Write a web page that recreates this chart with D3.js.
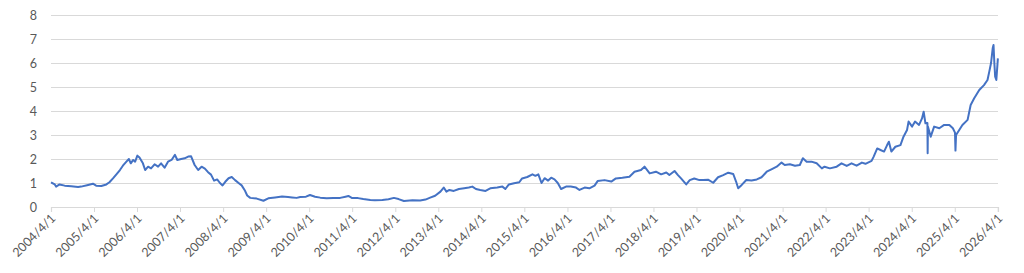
<!DOCTYPE html>
<html>
<head>
<meta charset="utf-8">
<script src="https://cdn.jsdelivr.net/npm/d3@7"></script>
<style>
  html, body { margin: 0; padding: 0; background: #fff; }
  svg { display: block; }
  .tick text { font-family: Lato, "Open Sans", sans-serif; font-size: 12.5px; fill: #595959; }
</style>
</head>
<body>
<div id="chart"></div>
<script>
const width = 1024;
const height = 273;
const plot = { left: 51, right: 998, top: 15, bottom: 207 };

// observation dates, one line per year
const dates = [
  '2004-04-01', '2004-05-03', '2004-05-14', '2004-06-13', '2004-07-26', '2004-09-20', '2004-11-17', '2004-12-13',
  '2005-02-10', '2005-03-23', '2005-04-19', '2005-06-02', '2005-07-15', '2005-08-10', '2005-09-09', '2005-10-08', '2005-11-07', '2005-12-02',
  '2006-01-01', '2006-01-22', '2006-02-07', '2006-02-28', '2006-03-16', '2006-04-04', '2006-04-22', '2006-05-21', '2006-06-09', '2006-07-04', '2006-07-29', '2006-08-28', '2006-09-27', '2006-10-22', '2006-11-21', '2006-12-20',
  '2007-01-19', '2007-02-17', '2007-03-09', '2007-04-11', '2007-05-10', '2007-06-09', '2007-07-04', '2007-08-03', '2007-09-02', '2007-10-01', '2007-10-29', '2007-11-25', '2007-12-20',
  '2008-01-15', '2008-02-10', '2008-03-05', '2008-03-27', '2008-04-19', '2008-05-17', '2008-06-13', '2008-07-11', '2008-08-10', '2008-09-05', '2008-10-01', '2008-10-22', '2008-11-17',
  '2009-01-11', '2009-03-09', '2009-04-19', '2009-06-16', '2009-08-14', '2009-10-04', '2009-11-07', '2009-12-16',
  '2010-01-15', '2010-03-05', '2010-04-08', '2010-05-21', '2010-07-04', '2010-08-28', '2010-10-22', '2010-12-20',
  '2011-02-03', '2011-02-28', '2011-04-01', '2011-05-21', '2011-07-04', '2011-09-02', '2011-10-11', '2011-12-13',
  '2012-02-03', '2012-03-20', '2012-04-29', '2012-06-13', '2012-08-25', '2012-10-29', '2012-12-13',
  '2013-01-22', '2013-03-05', '2013-04-19', '2013-05-17', '2013-06-09', '2013-07-04', '2013-08-10', '2013-09-23', '2013-11-07', '2013-12-16',
  '2014-01-15', '2014-02-14', '2014-03-23', '2014-05-07', '2014-06-16', '2014-08-14', '2014-09-27', '2014-10-22', '2014-11-21',
  '2015-01-04', '2015-02-17', '2015-03-13', '2015-04-26', '2015-06-09', '2015-07-04', '2015-07-29', '2015-08-25', '2015-09-20', '2015-10-20', '2015-11-15', '2015-12-13',
  '2016-01-10', '2016-02-07', '2016-03-20', '2016-04-29', '2016-06-13', '2016-07-12', '2016-08-25', '2016-10-04', '2016-11-17', '2016-12-13',
  '2017-02-10', '2017-04-08', '2017-05-17', '2017-07-11', '2017-09-09', '2017-10-22', '2017-12-16',
  '2018-01-15', '2018-02-28', '2018-04-22', '2018-06-05', '2018-07-19', '2018-08-14', '2018-09-27', '2018-10-26', '2018-11-21',
  '2019-01-04', '2019-02-03', '2019-03-13', '2019-04-26', '2019-05-28', '2019-07-08', '2019-08-21', '2019-10-01', '2019-11-14', '2019-12-27',
  '2020-02-07', '2020-03-02', '2020-03-20', '2020-04-19', '2020-05-28', '2020-07-11', '2020-08-25', '2020-10-04', '2020-11-17', '2020-12-27',
  '2021-02-10', '2021-03-23', '2021-04-19', '2021-06-02', '2021-07-15', '2021-08-25', '2021-09-20', '2021-10-22', '2021-12-02',
  '2022-01-15', '2022-02-28', '2022-03-23', '2022-05-07', '2022-07-04', '2022-08-14', '2022-09-27', '2022-11-07', '2022-12-20',
  '2023-02-03', '2023-03-05', '2023-04-26', '2023-05-14', '2023-06-13', '2023-07-11', '2023-08-10', '2023-09-05', '2023-09-20', '2023-10-11', '2023-11-14', '2023-12-27',
  '2024-01-22', '2024-02-21', '2024-03-05', '2024-04-04', '2024-04-29', '2024-06-02', '2024-06-27', '2024-07-11', '2024-07-26', '2024-08-12', '2024-08-14', '2024-08-16', '2024-09-09', '2024-10-08', '2024-11-21',
  '2025-01-01', '2025-02-14', '2025-03-16', '2025-04-03', '2025-04-07', '2025-04-12', '2025-06-05', '2025-07-19', '2025-08-14', '2025-09-13', '2025-10-26', '2025-12-05',
  '2026-01-04', '2026-01-19', '2026-02-03', '2026-02-17', '2026-02-24', '2026-03-03', '2026-03-10', '2026-03-20', '2026-04-02'
];

const values = [
  1.03, 0.94, 0.85, 0.94, 0.89, 0.86, 0.83, 0.85,
  0.92, 0.97, 0.89, 0.875, 0.94, 1.03, 1.19, 1.36, 1.54, 1.72,
  1.89, 2.0, 1.82, 1.96, 1.89, 2.14, 2.06, 1.82, 1.54, 1.68, 1.61, 1.78, 1.68, 1.82, 1.64, 1.89,
  1.96, 2.17, 1.96, 2.0, 2.03, 2.1, 2.11, 1.75, 1.54, 1.68, 1.6, 1.45, 1.35,
  1.1, 1.15, 1.0, 0.9, 1.05, 1.2, 1.25, 1.12, 1.0, 0.9, 0.7, 0.48, 0.38,
  0.35, 0.26, 0.36, 0.4, 0.44, 0.42, 0.4, 0.38,
  0.42, 0.43, 0.5, 0.43, 0.39, 0.36, 0.37, 0.38,
  0.43, 0.46, 0.37, 0.37, 0.33, 0.29, 0.28, 0.29,
  0.32, 0.38, 0.33, 0.25, 0.28, 0.27, 0.31,
  0.39, 0.47, 0.64, 0.81, 0.64, 0.71, 0.67, 0.75, 0.78, 0.81,
  0.85, 0.75, 0.71, 0.67, 0.78, 0.81, 0.85, 0.75, 0.94,
  0.99, 1.03, 1.19, 1.25, 1.36, 1.3, 1.36, 1.0, 1.2, 1.1, 1.22, 1.15,
  1.0, 0.75, 0.85, 0.85, 0.81, 0.71, 0.81, 0.78, 0.89, 1.08,
  1.12, 1.06, 1.19, 1.22, 1.26, 1.47, 1.54,
  1.68, 1.4, 1.47, 1.36, 1.44, 1.33, 1.5, 1.33, 1.19,
  0.94, 1.12, 1.19, 1.12, 1.125, 1.14, 1.01, 1.24, 1.33, 1.43,
  1.375, 1.06, 0.78, 0.92, 1.125, 1.1, 1.15, 1.24, 1.47, 1.57,
  1.68, 1.85, 1.75, 1.78, 1.72, 1.75, 2.03, 1.89, 1.89,
  1.82, 1.61, 1.68, 1.61, 1.68, 1.82, 1.71, 1.82, 1.72,
  1.85, 1.8, 1.92, 2.1, 2.44, 2.375, 2.31, 2.58, 2.72, 2.31, 2.51, 2.58,
  2.93, 3.21, 3.56, 3.35, 3.56, 3.42, 3.69, 3.97, 3.49, 3.5, 2.24, 3.35, 2.93, 3.35, 3.28,
  3.42, 3.42, 3.28, 3.1, 2.35, 3.0, 3.42, 3.63, 4.25, 4.53, 4.875, 5.08,
  5.29, 5.64, 6.0, 6.61, 6.75, 6.0, 5.43, 5.29, 6.19
];

const yTicks = [0, 1, 2, 3, 4, 5, 6, 7, 8];
const xTickYears = d3.range(2004, 2027);

const parse = d3.timeParse('%Y-%m-%d');
const series = dates.map((d, i) => ({ x: parse(d), y: values[i] }));

const x = d3.scaleTime()
  .domain([new Date(2004, 3, 1), new Date(2026, 3, 3)])
  .range([plot.left, plot.right]);

const y = d3.scaleLinear()
  .domain([0, 8])
  .range([plot.bottom, plot.top]);

const svg = d3.select('#chart')
  .append('svg')
    .attr('width', width)
    .attr('height', height);

// horizontal gridlines with value labels
svg.append('g')
  .attr('transform', `translate(${plot.left},0)`)
  .call(d3.axisLeft(y)
    .tickValues(yTicks)
    .tickSize(-(plot.right - plot.left))
    .tickPadding(14)
    .tickFormat(d3.format('d')))
  .call(g => g.select('.domain').remove())
  .call(g => g.selectAll('.tick line').attr('stroke', '#d9d9d9').attr('stroke-width', 1.2))
  .call(g => g.selectAll('.tick text').attr('dy', '0.35em'));

// date axis along the bottom
svg.append('g')
  .attr('transform', `translate(0,${plot.bottom})`)
  .call(d3.axisBottom(x)
    .tickValues(xTickYears.map(yr => new Date(yr, 3, 1)))
    .tickSize(5)
    .tickFormat(d3.timeFormat('%Y/%-m/%-d')))
  .call(g => g.select('.domain').attr('stroke', '#d9d9d9').attr('stroke-width', 1.2))
  .call(g => g.selectAll('.tick line').attr('stroke', '#d9d9d9'))
  .call(g => g.selectAll('.tick text')
    .attr('text-anchor', 'end')
    .attr('dy', null)
    .attr('y', 0)
    .attr('transform', 'translate(5,12) rotate(-45)'));

const line = d3.line()
  .x(d => x(d.x))
  .y(d => y(d.y));

svg.append('path')
  .datum(series)
  .attr('d', line)
  .attr('fill', 'none')
  .attr('stroke', '#4472c4')
  .attr('stroke-width', 2)
  .attr('stroke-linejoin', 'round');
</script>
</body>
</html>
